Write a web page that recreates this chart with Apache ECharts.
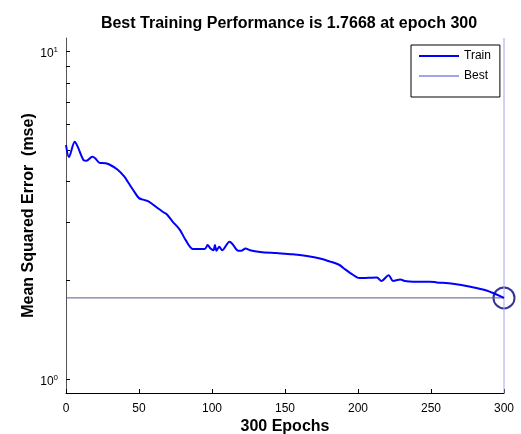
<!DOCTYPE html>
<html>
<head>
<meta charset="utf-8">
<script src="https://cdn.jsdelivr.net/npm/echarts@6/dist/echarts.min.js"></script>
<style>
  html, body { margin: 0; padding: 0; background: #fff; }
  #chart { width: 521px; height: 434px; }
</style>
</head>
<body>
<div id="chart"></div>
<script>
// training curve (epoch, mse)
const epochs = [0, 2, 6, 8, 12, 14, 18, 20, 23, 27, 30, 35, 40, 43, 46, 50, 54, 57, 62, 66, 69, 73, 78, 82, 87,
  95, 97, 99, 101, 102, 103, 105, 107, 112, 114, 118, 120, 123, 126, 133, 144, 155, 165, 174, 181, 187, 190,
  195, 201, 213, 216, 221, 224, 229, 232, 238, 249, 254, 265, 277, 288, 300]
const mse = [5.17, 4.75, 5.29, 5.11, 4.65, 4.63, 4.76, 4.71, 4.56, 4.55, 4.50, 4.36, 4.14, 3.95, 3.77, 3.56, 3.51,
  3.47, 3.34, 3.24, 3.18, 3.02, 2.85, 2.65, 2.49, 2.49, 2.56, 2.50, 2.47, 2.56, 2.46, 2.53, 2.47, 2.62, 2.58,
  2.46, 2.46, 2.50, 2.47, 2.44, 2.42, 2.40, 2.37, 2.33, 2.28, 2.23, 2.18, 2.10, 2.03, 2.04, 1.99, 2.07, 1.99,
  2.01, 1.99, 1.98, 1.98, 1.97, 1.95, 1.91, 1.86, 1.7668]
const bestEpoch = 300
const bestMse = 1.7668
const xTicks = [0, 50, 100, 150, 200, 250, 300]
const yTickValues = [1, 2, 3, 4, 5, 6, 7, 8, 9, 10]
const yLabelValues = [1, 10]
const yRange = [0.906, 10.96]

const lg = Math.log10
const font = 'Liberation Sans, Arial, sans-serif'

const chart = echarts.init(document.getElementById('chart'))
const yMin = lg(yRange[0])
const yMax = lg(yRange[1])

chart.setOption({
  animation: false,
  title: {
    text: 'Best Training Performance is ' + bestMse + ' at epoch ' + bestEpoch,
    left: 284,
    top: 11,
    textAlign: 'center',
    textStyle: { fontFamily: font, fontSize: 16, fontWeight: 'bold', color: '#000' }
  },
  legend: {
    data: ['Train', 'Best'],
    orient: 'vertical',
    left: 411,
    top: 45,
    padding: [5, 9, 15, 7],
    itemWidth: 40,
    itemHeight: 12,
    itemGap: 8,
    borderColor: '#000',
    borderWidth: 1,
    backgroundColor: '#fff',
    itemStyle: { opacity: 0 },
    textStyle: { fontFamily: font, fontSize: 12, color: '#000' }
  },
  grid: { left: 66, right: 17, top: 38, bottom: 41, outerBoundsMode: 'none' },
  xAxis: {
    type: 'value',
    min: 0,
    max: 300,
    interval: 50,
    name: bestEpoch + ' Epochs',
    nameLocation: 'middle',
    nameGap: 26,
    nameMoveOverlap: false,
    nameTextStyle: { fontFamily: font, fontSize: 16, fontWeight: 'bold', color: '#000' },
    axisLine: { onZero: false, lineStyle: { color: '#000', width: 1 } },
    axisTick: { inside: true, length: 4, lineStyle: { color: '#000' }, customValues: xTicks },
    axisLabel: { fontFamily: font, fontSize: 12, color: '#000', margin: 10, customValues: xTicks },
    splitLine: { show: false }
  },
  yAxis: {
    type: 'value',
    min: yMin,
    max: yMax,
    name: 'Mean Squared Error  (mse)',
    nameLocation: 'middle',
    nameGap: 29,
    nameMoveOverlap: false,
    nameTextStyle: { fontFamily: font, fontSize: 16, fontWeight: 'bold', color: '#000' },
    axisLine: { show: true, onZero: false, lineStyle: { color: '#555', width: 1 } },
    axisTick: { inside: true, length: 4, lineStyle: { color: '#000' }, customValues: yTickValues.map(lg) },
    axisLabel: {
      customValues: yLabelValues.map(lg),
      margin: 8,
      padding: [6, 0, 0, 0],
      formatter: v => '10{s|' + Math.round(v) + '}',
      fontFamily: font,
      fontSize: 12,
      color: '#000',
      rich: {
        s: { fontFamily: font, fontSize: 8, color: '#000', verticalAlign: 'top', padding: [0, 0, 8, 0] }
      }
    },
    splitLine: { show: false }
  },
  series: [
    {
      name: 'Best',
      type: 'line',
      symbol: 'none',
      silent: true,
      lineStyle: { color: '#a4a4ec', width: 1 },
      itemStyle: { color: '#a4a4ec' },
      data: [[bestEpoch, yMin], [bestEpoch, yMax]]
    },
    {
      name: 'bestLevel',
      type: 'line',
      symbol: 'none',
      silent: true,
      lineStyle: { color: '#5a5a8a', width: 1 },
      data: [[0, lg(bestMse)], [bestEpoch, lg(bestMse)]]
    },
    {
      name: 'Train',
      type: 'line',
      symbol: 'none',
      smooth: 0.3,
      lineStyle: { color: '#0000ff', width: 2 },
      itemStyle: { color: '#0000ff' },
      data: epochs.map((e, i) => [e, lg(mse[i])])
    },
    {
      name: 'bestMark',
      type: 'scatter',
      symbol: 'circle',
      symbolSize: 21,
      silent: true,
      itemStyle: { color: 'rgba(0,0,0,0)', borderColor: '#00007f', borderWidth: 2 },
      data: [[bestEpoch, lg(bestMse)]]
    }
  ]
})
</script>
</body>
</html>
